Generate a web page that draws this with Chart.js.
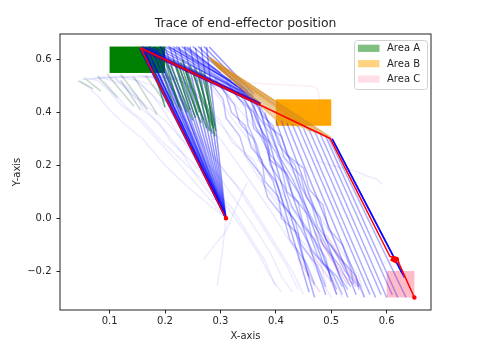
<!DOCTYPE html>
<html><head><meta charset="utf-8">
<script src="https://cdn.jsdelivr.net/npm/chart.js@4"></script>
<style>html,body{margin:0;padding:0;background:#fff}canvas{display:block}</style>
</head><body>
<canvas id="c" width="479" height="350" style="width:479px;height:350px"></canvas>
<script>
// ---------- values ----------
const titleText = 'Trace of end-effector position';
const xLabel = 'X-axis';
const yLabel = 'Y-axis';
const xTicks = [0.1, 0.2, 0.3, 0.4, 0.5, 0.6];
const xTickLabels = ['0.1', '0.2', '0.3', '0.4', '0.5', '0.6'];
const yTicks = [-0.2, 0.0, 0.2, 0.4, 0.6];
const yTickLabels = ['\u22120.2', '0.0', '0.2', '0.4', '0.6'];
const xRange = [0.0105, 0.680];
const yRange = [-0.3475, 0.6975];

const areaNames = ['Area A', 'Area B', 'Area C'];
const areaX = [[0.1, 0.2], [0.4, 0.5], [0.6, 0.65]];
const areaY = [[0.55, 0.65], [0.35, 0.45], [-0.3, -0.2]];

// red reference trace
const redPath = [[0.31, 0.0], [0.156, 0.645], [0.498, 0.302], [0.606, -0.145], [0.62, -0.15], [0.622, -0.17], [0.65, -0.3]];
const redBlob = [[0.6085, -0.15], [0.62, -0.162]];
// purple band along the red path
const purpleBand = [[0.157, 0.641], [0.372, 0.431]];
// thick blue next to red on last leg
const blueLeg = [[[0.502, 0.3], [0.632, -0.225]], [[0.503, 0.296], [0.63, -0.215]], [[0.501, 0.302], [0.627, -0.205]]];

// fan converging at the base point
const fanBase = [0.31, 0.0];
const fanTops = [[0.154, 0.645], [0.155, 0.64], [0.156, 0.648], [0.157, 0.636], [0.158, 0.642], [0.16, 0.646], [0.161, 0.632],
  [0.162, 0.64], [0.164, 0.628], [0.165, 0.648], [0.167, 0.636], [0.168, 0.643], [0.17, 0.63],
  [0.172, 0.65], [0.176, 0.645], [0.18, 0.648], [0.183, 0.636], [0.186, 0.642], [0.192, 0.65], [0.196, 0.638], [0.2, 0.646],
  [0.208, 0.65], [0.216, 0.644], [0.225, 0.65], [0.235, 0.648], [0.245, 0.65], [0.255, 0.646], [0.265, 0.65], [0.275, 0.648]];

// top -> area B region
const topToB = [
  [[0.19, 0.65], [0.35, 0.46]], [[0.2, 0.65], [0.36, 0.45]], [[0.21, 0.648], [0.365, 0.445]], [[0.22, 0.65], [0.355, 0.465]],
  [[0.23, 0.65], [0.37, 0.44]], [[0.24, 0.648], [0.345, 0.475]], [[0.25, 0.65], [0.36, 0.46]], [[0.26, 0.65], [0.34, 0.49]],
  [[0.165, 0.648], [0.37, 0.435]], [[0.17, 0.65], [0.365, 0.44]], [[0.18, 0.648], [0.35, 0.47]], [[0.158, 0.65], [0.372, 0.436]],
  [[0.162, 0.646], [0.368, 0.43]], [[0.215, 0.65], [0.33, 0.5]], [[0.27, 0.65], [0.35, 0.48]], [[0.28, 0.648], [0.36, 0.47]],
  [[0.205, 0.65], [0.32, 0.52]], [[0.235, 0.65], [0.3, 0.55]]];

// green strokes (area A crossing)
const greenStrokes = [
  [[0.17, 0.63], [0.2, 0.42]], [[0.185, 0.62], [0.215, 0.43]], [[0.2, 0.6], [0.225, 0.42]], [[0.205, 0.58], [0.24, 0.4]],
  [[0.21, 0.58], [0.25, 0.37]], [[0.22, 0.58], [0.255, 0.38]], [[0.225, 0.575], [0.265, 0.36]], [[0.235, 0.57], [0.27, 0.37]],
  [[0.24, 0.56], [0.275, 0.34]], [[0.25, 0.56], [0.28, 0.33]], [[0.26, 0.55], [0.285, 0.32]], [[0.27, 0.55], [0.29, 0.31]],
  [[0.275, 0.53], [0.29, 0.35]], [[0.232, 0.6], [0.262, 0.4]], [[0.215, 0.6], [0.245, 0.41]], [[0.245, 0.58], [0.285, 0.35]],
  [[0.255, 0.57], [0.288, 0.34]], [[0.265, 0.56], [0.292, 0.33]], [[0.19, 0.61], [0.23, 0.41]], [[0.228, 0.59], [0.258, 0.39]]];
const faintGreenStrokes = [
  [[0.045, 0.52], [0.07, 0.49]], [[0.054, 0.532], [0.084, 0.481]], [[0.078, 0.538], [0.114, 0.456]], [[0.096, 0.544], [0.144, 0.424]],
  [[0.12, 0.544], [0.168, 0.412]], [[0.143, 0.538], [0.186, 0.393]], [[0.12, 0.523], [0.156, 0.409]], [[0.165, 0.54], [0.2, 0.44]]];

// orange wedge towards area B
const orangeStrokes = [
  [[0.278, 0.61], [0.5, 0.305]], [[0.28, 0.605], [0.49, 0.31]], [[0.282, 0.6], [0.48, 0.318]], [[0.284, 0.598], [0.47, 0.325]],
  [[0.285, 0.594], [0.46, 0.332]], [[0.287, 0.59], [0.45, 0.34]], [[0.288, 0.586], [0.44, 0.346]], [[0.29, 0.582], [0.43, 0.352]],
  [[0.292, 0.578], [0.42, 0.358]], [[0.294, 0.574], [0.41, 0.364]], [[0.296, 0.57], [0.402, 0.37]], [[0.281, 0.608], [0.495, 0.308]],
  [[0.286, 0.596], [0.465, 0.33]]];

// straight legs down to the bottom
const straightLegs = [
  [[0.40, 0.37], [0.51, -0.29]], [[0.41, 0.37], [0.53, -0.30]], [[0.42, 0.36], [0.545, -0.29]], [[0.43, 0.355], [0.56, -0.30]],
  [[0.44, 0.35], [0.57, -0.29]], [[0.45, 0.34], [0.58, -0.30]], [[0.46, 0.335], [0.59, -0.29]], [[0.47, 0.33], [0.60, -0.30]],
  [[0.48, 0.32], [0.61, -0.29]], [[0.49, 0.31], [0.62, -0.30]], [[0.38, 0.40], [0.49, -0.29]], [[0.37, 0.42], [0.47, -0.30]],
  [[0.36, 0.43], [0.46, -0.28]], [[0.495, 0.305], [0.635, -0.3]]];

// wavy mid traces
const midTraces = [
  [[0.33, 0.48], [0.36, 0.4], [0.375, 0.33], [0.4, 0.25], [0.415, 0.18], [0.44, 0.1], [0.455, 0.02], [0.48, -0.06], [0.5, -0.14], [0.515, -0.22], [0.53, -0.27]],
  [[0.35, 0.46], [0.37, 0.38], [0.39, 0.32], [0.405, 0.24], [0.43, 0.15], [0.445, 0.08], [0.47, -0.02], [0.485, -0.1], [0.515, -0.18], [0.535, -0.26]],
  [[0.3, 0.5], [0.325, 0.43], [0.335, 0.36], [0.36, 0.3], [0.37, 0.22], [0.4, 0.14], [0.415, 0.05], [0.445, -0.04], [0.465, -0.12], [0.495, -0.2], [0.51, -0.27]],
  [[0.36, 0.45], [0.375, 0.39], [0.395, 0.35], [0.405, 0.28], [0.435, 0.2], [0.445, 0.12], [0.465, 0.05], [0.475, -0.03], [0.505, -0.12], [0.525, -0.2], [0.55, -0.26]],
  [[0.28, 0.52], [0.305, 0.45], [0.31, 0.38], [0.335, 0.31], [0.345, 0.24], [0.375, 0.16], [0.385, 0.08], [0.415, 0.0], [0.425, -0.08], [0.455, -0.17], [0.47, -0.25]],
  [[0.37, 0.43], [0.385, 0.37], [0.405, 0.3], [0.415, 0.23], [0.445, 0.16], [0.455, 0.08], [0.48, 0.0], [0.49, -0.08], [0.515, -0.15], [0.545, -0.22], [0.55, -0.27]],
  [[0.34, 0.47], [0.355, 0.4], [0.365, 0.34], [0.385, 0.26], [0.39, 0.2], [0.415, 0.12], [0.43, 0.04], [0.46, -0.05], [0.475, -0.14], [0.505, -0.22], [0.52, -0.29]],
  [[0.32, 0.49], [0.345, 0.42], [0.35, 0.35], [0.365, 0.28], [0.375, 0.21], [0.395, 0.14], [0.405, 0.07], [0.435, -0.01], [0.445, -0.1], [0.475, -0.18], [0.49, -0.26]],
  [[0.31, 0.52], [0.33, 0.46], [0.355, 0.41], [0.36, 0.34], [0.385, 0.29], [0.39, 0.22], [0.42, 0.17], [0.43, 0.09], [0.455, 0.02], [0.465, -0.07], [0.49, -0.15], [0.5, -0.24]],
  [[0.345, 0.46], [0.37, 0.42], [0.38, 0.36], [0.41, 0.31], [0.42, 0.24], [0.45, 0.19], [0.46, 0.11], [0.485, 0.05], [0.495, -0.04], [0.52, -0.1], [0.535, -0.19], [0.54, -0.25]],
  [[0.29, 0.53], [0.31, 0.47], [0.32, 0.4], [0.345, 0.35], [0.355, 0.27], [0.375, 0.22], [0.38, 0.14], [0.405, 0.08], [0.41, 0.0], [0.44, -0.06], [0.45, -0.15], [0.46, -0.22]],
  [[0.355, 0.45], [0.365, 0.37], [0.38, 0.31], [0.39, 0.24], [0.41, 0.19], [0.42, 0.1], [0.44, 0.06], [0.45, -0.03], [0.47, -0.08], [0.485, -0.17], [0.51, -0.22], [0.52, -0.26]]];

// faint exploratory traces
const faintTraces = [
  [[0.042, 0.52], [0.06, 0.5], [0.08, 0.46], [0.1, 0.41], [0.13, 0.35], [0.16, 0.3], [0.2, 0.2], [0.24, 0.12], [0.28, 0.05], [0.31, 0.0]],
  [[0.06, 0.53], [0.08, 0.52], [0.1, 0.48], [0.12, 0.43], [0.15, 0.38], [0.18, 0.31], [0.22, 0.22], [0.26, 0.12], [0.29, 0.05], [0.31, 0.0]],
  [[0.08, 0.535], [0.11, 0.53], [0.13, 0.49], [0.15, 0.45], [0.17, 0.4], [0.2, 0.33], [0.23, 0.25], [0.26, 0.15], [0.29, 0.07], [0.31, 0.0]],
  [[0.1, 0.535], [0.14, 0.535], [0.16, 0.5], [0.18, 0.46], [0.2, 0.4], [0.22, 0.33], [0.25, 0.24], [0.28, 0.12], [0.31, 0.0]],
  [[0.05, 0.525], [0.09, 0.53], [0.12, 0.51], [0.14, 0.47], [0.17, 0.42], [0.2, 0.37], [0.23, 0.3], [0.27, 0.22], [0.3, 0.15], [0.33, 0.06], [0.36, -0.03], [0.39, -0.13], [0.41, -0.22], [0.43, -0.28]],
  [[0.07, 0.53], [0.12, 0.535], [0.15, 0.52], [0.17, 0.48], [0.19, 0.44], [0.22, 0.38], [0.25, 0.32], [0.28, 0.25], [0.31, 0.17], [0.34, 0.1], [0.37, 0.0], [0.4, -0.1], [0.43, -0.2], [0.45, -0.29]],
  [[0.12, 0.535], [0.17, 0.535], [0.2, 0.52], [0.22, 0.47], [0.24, 0.42], [0.27, 0.36], [0.3, 0.3], [0.33, 0.21], [0.36, 0.12], [0.39, 0.03], [0.42, -0.07], [0.45, -0.17], [0.47, -0.26]],
  [[0.15, 0.54], [0.2, 0.535], [0.24, 0.51], [0.26, 0.46], [0.28, 0.4], [0.31, 0.33], [0.34, 0.25], [0.37, 0.15], [0.4, 0.06], [0.43, -0.04], [0.46, -0.14], [0.48, -0.23], [0.5, -0.3]],
  [[0.18, 0.54], [0.25, 0.53], [0.28, 0.5], [0.3, 0.45], [0.32, 0.38], [0.35, 0.3], [0.38, 0.2], [0.41, 0.1], [0.44, 0.0], [0.47, -0.1], [0.5, -0.2], [0.52, -0.3]],
  [[0.09, 0.52], [0.11, 0.47], [0.13, 0.42], [0.16, 0.37], [0.19, 0.3], [0.23, 0.22], [0.27, 0.14], [0.31, 0.05], [0.34, -0.04], [0.37, -0.14], [0.39, -0.22], [0.41, -0.28]],
  [[0.2, 0.53], [0.27, 0.52], [0.31, 0.48], [0.33, 0.42], [0.36, 0.35], [0.4, 0.27], [0.43, 0.18], [0.46, 0.08], [0.49, -0.03], [0.52, -0.13], [0.55, -0.22], [0.56, -0.3]],
  [[0.14, 0.53], [0.18, 0.5], [0.2, 0.46], [0.22, 0.41], [0.24, 0.36], [0.27, 0.29], [0.3, 0.2], [0.33, 0.12], [0.36, 0.02], [0.39, -0.08], [0.42, -0.18], [0.44, -0.27]],
  [[0.11, 0.53], [0.13, 0.5], [0.15, 0.46], [0.16, 0.41], [0.19, 0.36], [0.21, 0.29], [0.25, 0.21], [0.28, 0.13], [0.32, 0.04], [0.35, -0.06], [0.38, -0.16], [0.4, -0.26]],
  [[0.16, 0.535], [0.22, 0.53], [0.25, 0.49], [0.27, 0.43], [0.3, 0.37], [0.32, 0.29], [0.36, 0.22], [0.38, 0.12], [0.42, 0.03], [0.44, -0.07], [0.48, -0.16], [0.49, -0.25]],
  [[0.47, 0.22], [0.5, 0.2], [0.534, 0.185], [0.565, 0.16], [0.582, 0.148], [0.593, 0.128]],
  [[0.31, 0.0], [0.305, -0.1], [0.3, -0.18], [0.294, -0.257]],
  [[0.348, 0.134], [0.33, 0.05], [0.31, -0.05], [0.29, -0.1], [0.27, -0.156]]];
const faintPinkTraces = [
  [[0.35, 0.513], [0.41, 0.505], [0.467, 0.5], [0.476, 0.487], [0.48, 0.44], [0.478, 0.4]]];
const pinkTraces = [
  [[0.47, -0.05], [0.49, -0.12], [0.51, -0.19], [0.53, -0.25]], [[0.48, -0.08], [0.5, -0.15], [0.52, -0.21], [0.545, -0.26]],
  [[0.49, -0.06], [0.51, -0.13], [0.53, -0.2], [0.55, -0.255]], [[0.46, -0.12], [0.48, -0.18], [0.5, -0.24], [0.51, -0.29]],
  [[0.5, -0.1], [0.52, -0.16], [0.54, -0.22], [0.555, -0.26]], [[0.44, -0.15], [0.46, -0.22], [0.48, -0.28]]];

// ---------- styles ----------
const FONT = 'DejaVu Sans';
const TEXT = '#262626';
const areaFill = ['#008000', '#FFA500', '#FFBCC8'];
const legendFill = ['rgba(0,128,0,0.5)', 'rgba(255,165,0,0.5)', 'rgba(255,192,203,0.5)'];

const sets = [];
const toPts = t => t.map(p => ({x: p[0], y: p[1]}));
function addTraces(list, color, width) {
  list.forEach(t => sets.push({data: toPts(t), borderColor: color, borderWidth: width}));
}
addTraces(faintTraces, 'rgba(0,0,255,0.08)', 1.5);
addTraces(faintPinkTraces, 'rgba(220,120,120,0.12)', 1.5);
addTraces(faintGreenStrokes, 'rgba(30,100,60,0.25)', 1.5);
addTraces(pinkTraces, 'rgba(200,110,190,0.28)', 1.5);
addTraces(midTraces, 'rgba(0,0,255,0.25)', 1.5);
addTraces(straightLegs, 'rgba(0,0,255,0.32)', 1.5);
addTraces(topToB, 'rgba(0,0,255,0.4)', 1.5);
addTraces(fanTops.map(p => [fanBase, p]), 'rgba(0,0,255,0.42)', 1.5);
addTraces(greenStrokes, 'rgba(0,110,40,0.6)', 1.5);
addTraces(orangeStrokes, 'rgba(215,140,30,0.5)', 1.5);
addTraces([purpleBand], 'rgba(95,0,150,0.9)', 3.5);
addTraces(blueLeg, 'rgba(0,0,255,0.7)', 1.5);
addTraces([redBlob], '#ff0000', 6);
sets.push({
  data: toPts(redPath), borderColor: '#ff0000', borderWidth: 1.5,
  backgroundColor: '#ff0000',
  pointRadius: c => (c.dataIndex === 0 || c.dataIndex === redPath.length - 1) ? 1.5 : 0
});
const datasets = sets.reverse();

const decor = {
  id: 'decor',
  beforeDatasetsDraw(chart) {
    const {ctx, scales: {x, y}} = chart;
    ctx.save();
    areaX.forEach((ax, i) => {
      const x0 = x.getPixelForValue(ax[0]), x1 = x.getPixelForValue(ax[1]);
      const y0 = y.getPixelForValue(areaY[i][1]), y1 = y.getPixelForValue(areaY[i][0]);
      ctx.fillStyle = areaFill[i];
      ctx.fillRect(x0, y0, x1 - x0, y1 - y0);
    });
    ctx.restore();
  },
  afterDraw(chart) {
    const {ctx, chartArea: ca} = chart;
    ctx.save();
    ctx.strokeStyle = '#222';
    ctx.lineWidth = 1;
    ctx.strokeRect(ca.left, ca.top, ca.right - ca.left, ca.bottom - ca.top);
    // title
    ctx.fillStyle = TEXT;
    ctx.font = '12.4px ' + FONT;
    ctx.textAlign = 'center';
    ctx.textBaseline = 'middle';
    ctx.fillText(titleText, (ca.left + ca.right) / 2, ca.top - 10.7);
    // legend
    const lx = ca.right - 76.5, ly = ca.top + 6.5, lw = 73, lh = 49;
    ctx.beginPath();
    ctx.roundRect(lx, ly, lw, lh, 3);
    ctx.fillStyle = 'rgba(255,255,255,0.8)';
    ctx.fill();
    ctx.strokeStyle = '#d0d0d0';
    ctx.stroke();
    ctx.font = '10px ' + FONT;
    ctx.textAlign = 'left';
    areaNames.forEach((n, i) => {
      const cy = ly + 7.8 + 15.4 * i;
      ctx.fillStyle = legendFill[i];
      ctx.fillRect(lx + 3.5, cy - 3.6, 21.5, 7.2);
      ctx.fillStyle = TEXT;
      ctx.fillText(n, lx + 32.5, cy + 0.5);
    });
    ctx.restore();
  }
};

Chart.defaults.font.family = FONT;
Chart.defaults.color = TEXT;
new Chart(document.getElementById('c'), {
  type: 'scatter',
  data: {datasets},
  options: {
    responsive: false, animation: false, devicePixelRatio: 1,
    showLine: true,
    elements: {point: {radius: 0, hoverRadius: 0}, line: {tension: 0, fill: false, borderJoinStyle: 'round', borderCapStyle: 'butt'}},
    layout: {padding: {left: 0, right: 48, top: 34, bottom: 0}},
    plugins: {legend: {display: false}, tooltip: {enabled: false}, title: {display: false}},
    scales: {
      x: {
        type: 'linear', min: xRange[0], max: xRange[1],
        afterBuildTicks: s => { s.ticks = xTicks.map(v => ({value: v})); },
        afterFit: s => { s.height = 40; },
        ticks: {callback: (v, i) => xTickLabels[i], font: {size: 10}, color: TEXT, padding: 2.2, maxRotation: 0, autoSkip: false},
        grid: {display: true, drawOnChartArea: false, drawTicks: true, tickLength: 3.5, color: '#222', lineWidth: 1},
        border: {display: false},
        title: {display: true, text: xLabel, color: TEXT, font: {size: 10}, padding: {top: 0, bottom: 7.3}}
      },
      y: {
        type: 'linear', min: yRange[0], max: yRange[1],
        afterBuildTicks: s => { s.ticks = yTicks.map(v => ({value: v})); },
        afterFit: s => { s.width = 60; },
        ticks: {callback: (v, i) => yTickLabels[i], font: {size: 10}, color: TEXT, padding: 5, autoSkip: false},
        grid: {display: true, drawOnChartArea: false, drawTicks: true, tickLength: 3.5, color: '#222', lineWidth: 1},
        border: {display: false},
        title: {display: true, text: yLabel, color: TEXT, font: {size: 10}, padding: {top: 11.5, bottom: 0}}
      }
    }
  },
  plugins: [decor]
});
</script>
</body></html>
